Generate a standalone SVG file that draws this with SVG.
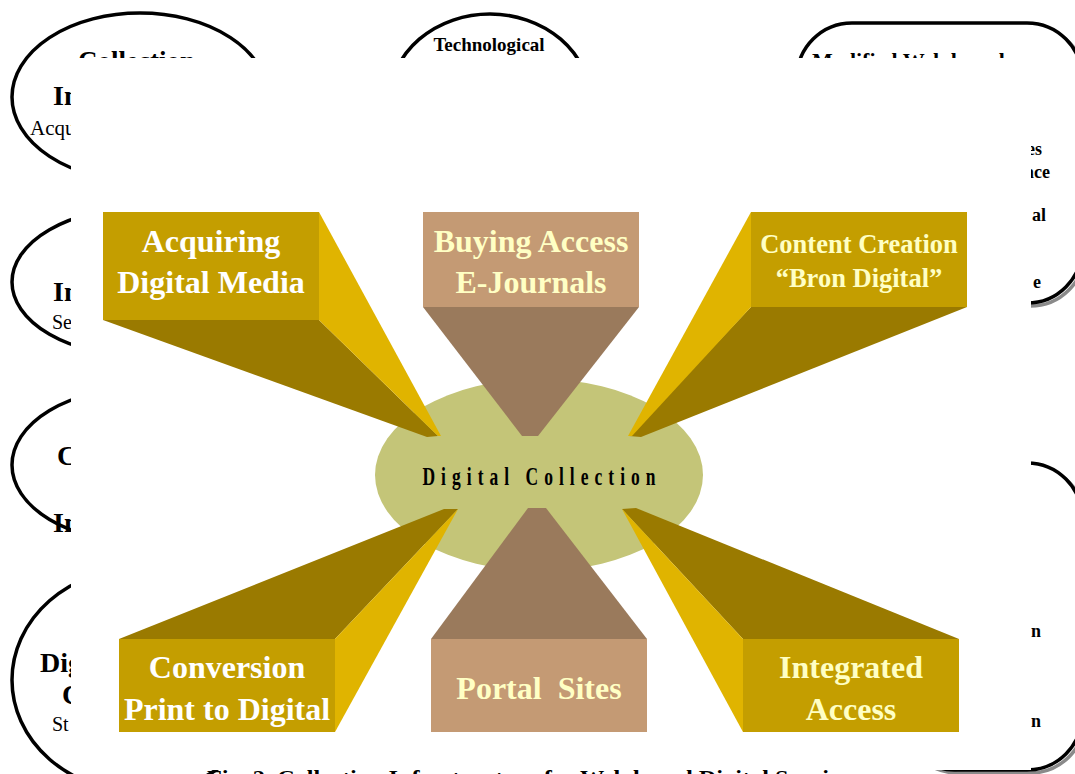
<svg xmlns="http://www.w3.org/2000/svg" width="1075" height="774" viewBox="0 0 1075 774">
  <style>
    .outline { fill: #fff; stroke: #000; stroke-width: 3.5; }
    .shadow { fill: none; stroke: #8a8a8a; stroke-width: 3.5; }
    .bgb { font-family: "Liberation Serif", serif; font-weight: bold; fill: #000; }
    .bgr { font-family: "Liberation Serif", serif; fill: #000; }
    .lbl { font-family: "Liberation Serif", serif; font-weight: bold; font-size: 32px; text-anchor: middle; }
    .lbl.small { font-size: 26.5px; }
    .gold { fill: #C49E00; }
    .bright { fill: #E0B400; }
    .dark { fill: #9A7A00; }
    .tan { fill: #C49A74; }
    .tandark { fill: #9A7A5C; }
    .white { fill: #FFFFFF; }
    .cream { fill: #FFFFC4; }
  </style>

  <rect width="1075" height="774" fill="#fff"/>

  <!-- background layer: outer frames of the surrounding boxes -->
  <g id="frames">
    <ellipse class="outline" cx="140" cy="97" rx="128" ry="84"/>
    <text class="bgb" x="78" y="70" font-size="27">Collection</text>
    <text class="bgb" x="53" y="105" font-size="28">In</text>
    <text class="bgr" x="30" y="135" font-size="21">Acqu</text>

    <ellipse class="outline" cx="140" cy="282" rx="128" ry="74"/>
    <text class="bgb" x="53" y="301" font-size="28">In</text>
    <text class="bgr" x="52" y="329" font-size="20">Se</text>

    <ellipse class="outline" cx="140" cy="465" rx="128" ry="77"/>
    <text class="bgb" x="57" y="465" font-size="28">C</text>
    <text class="bgb" x="53" y="532" font-size="28">In</text>

    <ellipse class="outline" cx="140" cy="680" rx="128" ry="112"/>
    <text class="bgb" x="40" y="672" font-size="28">Dig</text>
    <text class="bgb" x="62" y="704" font-size="28">C</text>
    <text class="bgr" x="52" y="731" font-size="20">St</text>

    <ellipse class="outline" cx="490" cy="100" rx="100" ry="86"/>
    <text class="bgb" x="489" y="51" font-size="19" text-anchor="middle">Technological</text>

    <rect class="shadow" x="800" y="26" width="285" height="280" rx="55"/>
    <rect class="outline" x="797" y="23" width="285" height="280" rx="55"/>
    <text class="bgb" x="812" y="68" font-size="22">Modified Web based</text>
    <text class="bgb" x="1042" y="155" font-size="18" text-anchor="end">es</text>
    <text class="bgb" x="1050" y="178" font-size="18" text-anchor="end">ace</text>
    <text class="bgb" x="1046" y="221" font-size="18" text-anchor="end">al</text>
    <text class="bgb" x="1041" y="288" font-size="18" text-anchor="end">e</text>

    <rect class="shadow" x="903" y="466" width="182" height="307" rx="55"/>
    <rect class="outline" x="900" y="463" width="182" height="307" rx="55"/>
    <text class="bgb" x="1041" y="637" font-size="18" text-anchor="end">n</text>
    <text class="bgb" x="1041" y="727" font-size="18" text-anchor="end">n</text>
  </g>

  <!-- front sheet -->
  <rect x="71" y="58" width="960" height="712" fill="#fff"/>

  <!-- hub -->
  <g id="hub">
    <ellipse cx="539" cy="475" rx="164" ry="96" fill="#C4C578"/>
  </g>

  <!-- beams joining each box to the hub -->
  <g id="connectors">
    <polygon class="dark" points="103,320 319,320 438,436 427,437"/>
    <polygon class="bright" points="319,212 441,436 438,436 319,320"/>

    <polygon class="tandark" points="423,307 639,307 538,436 522,436"/>

    <polygon class="dark" points="751,307 967,307 641,437 629,436"/>
    <polygon class="bright" points="751,212 751,307 632,436 628,436"/>

    <polygon class="dark" points="119,639 335,639 458,509 444,509"/>
    <polygon class="bright" points="335,639 335,732 458,509"/>

    <polygon class="tandark" points="431,639 647,639 546,508 528,508"/>

    <polygon class="dark" points="743,639 959,639 636,508 622,509"/>
    <polygon class="bright" points="743,639 743,732 622,509"/>
  </g>

  <g id="hub-label">
    <text transform="translate(539,485) scale(0.7,1)" font-family="Liberation Serif, serif" font-weight="bold" font-size="25" text-anchor="middle" textLength="333" lengthAdjust="spacing">Digital Collection</text>
  </g>

  <g id="acquiring">
    <rect class="gold" x="103" y="212" width="216" height="108"/>
    <text class="lbl white" x="211" y="252">Acquiring</text>
    <text class="lbl white" x="211" y="293">Digital Media</text>
  </g>

  <g id="buying">
    <rect class="tan" x="423" y="212" width="216" height="95"/>
    <text class="lbl cream" x="531" y="252">Buying Access</text>
    <text class="lbl cream" x="531" y="293">E-Journals</text>
  </g>

  <g id="content">
    <rect class="gold" x="751" y="212" width="216" height="95"/>
    <text class="lbl small cream" x="859" y="253">Content Creation</text>
    <text class="lbl small cream" x="859" y="287">“Bron Digital”</text>
  </g>

  <g id="conversion">
    <rect class="gold" x="119" y="639" width="216" height="93"/>
    <text class="lbl white" x="227" y="678">Conversion</text>
    <text class="lbl white" x="227" y="720">Print to Digital</text>
  </g>

  <g id="portal">
    <rect class="tan" x="431" y="639" width="216" height="93"/>
    <text class="lbl cream" x="539" y="699" xml:space="preserve">Portal  Sites</text>
  </g>

  <g id="integrated">
    <rect class="gold" x="743" y="639" width="216" height="93"/>
    <text class="lbl cream" x="851" y="678">Integrated</text>
    <text class="lbl cream" x="851" y="720">Access</text>
  </g>

  <text x="207" y="785" font-family="Liberation Serif, serif" font-weight="bold" font-size="20" textLength="653" lengthAdjust="spacingAndGlyphs">Fig. 2. Collection Infrastructure for Web based Digital Services</text>
</svg>
